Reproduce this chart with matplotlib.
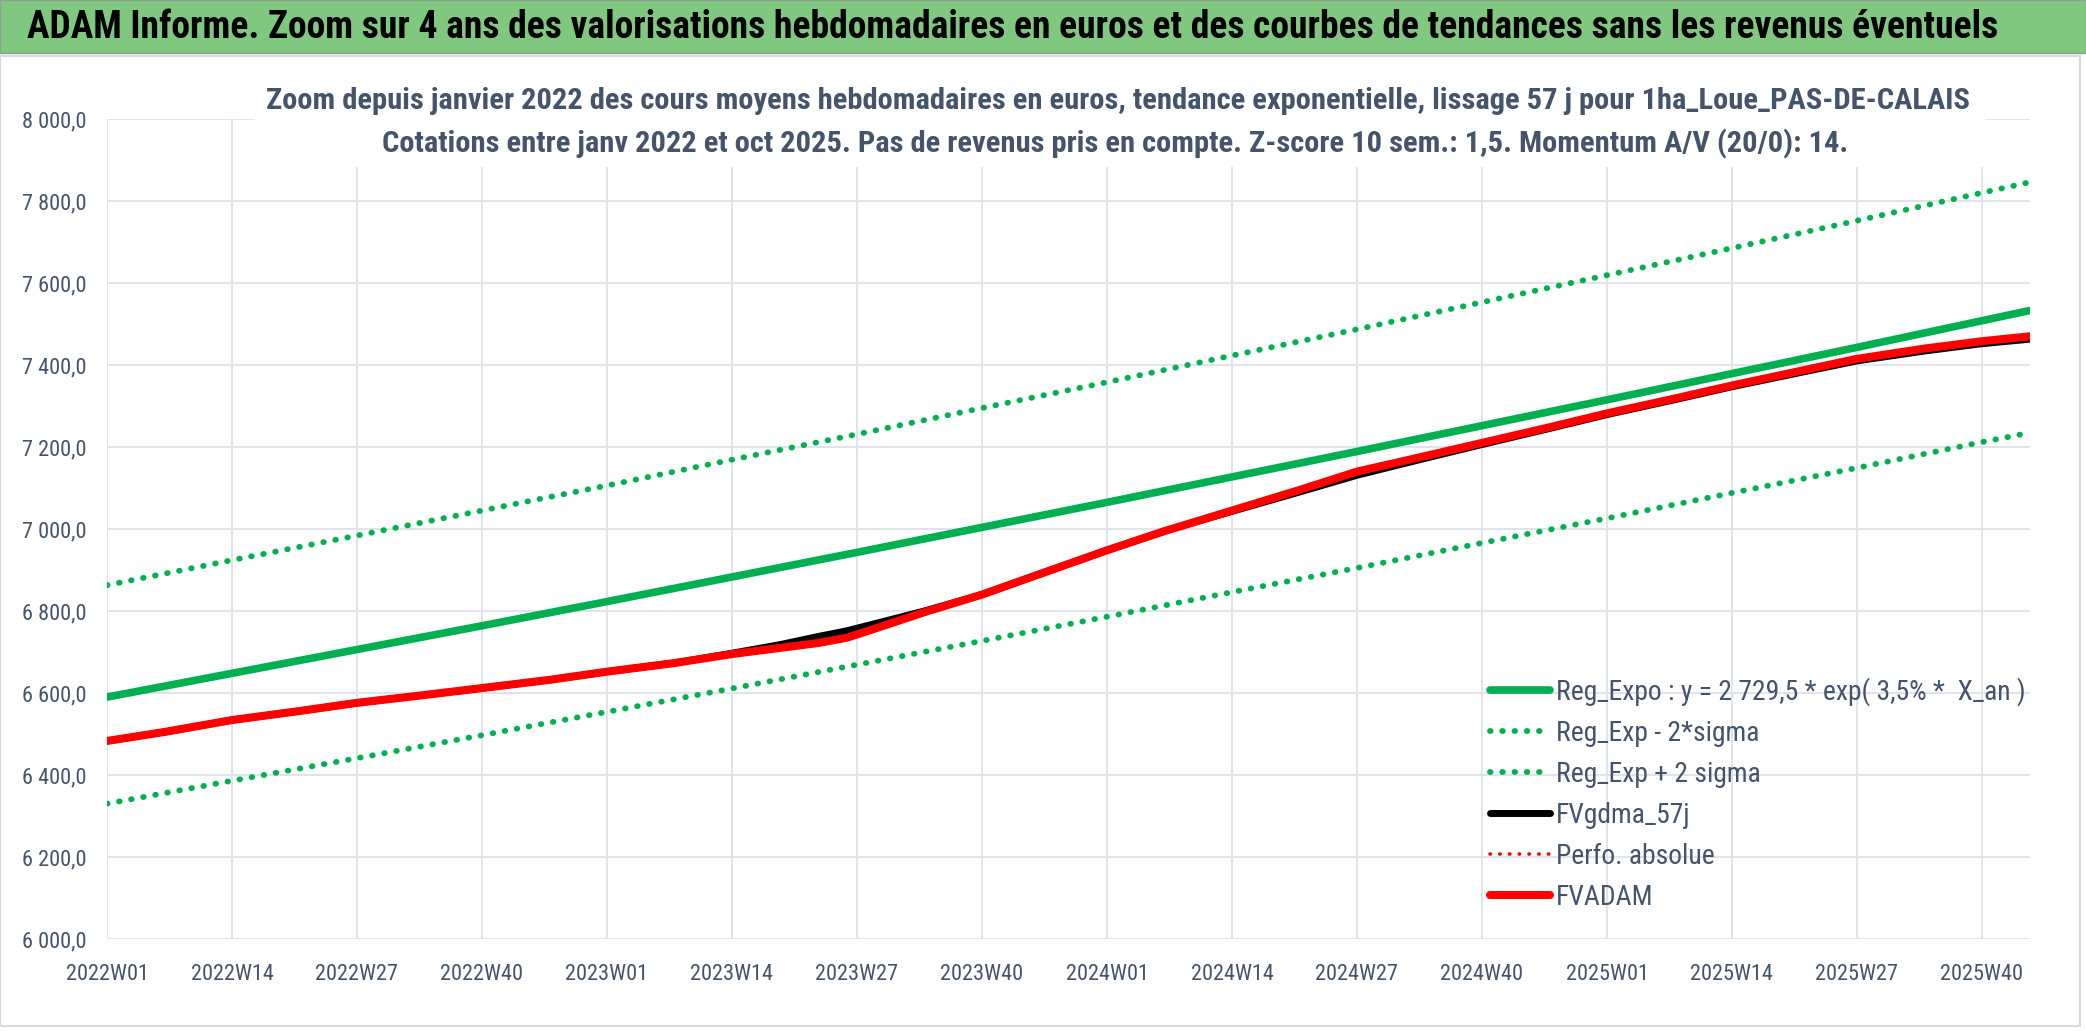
from __future__ import annotations

import matplotlib

matplotlib.use("Agg")

import matplotlib.pyplot as plt
from matplotlib import font_manager
from matplotlib.patches import Rectangle
from matplotlib.lines import Line2D
from matplotlib.ticker import FixedLocator, FuncFormatter

FIG_W, FIG_H, DPI = 2086, 1031, 100

TITLE = ("ADAM Informe. Zoom sur 4 ans des valorisations hebdomadaires en euros "
         "et des courbes de tendances sans les revenus éventuels")
SUBTITLE_1 = ("Zoom depuis janvier 2022 des cours moyens hebdomadaires en euros, "
              "tendance exponentielle, lissage 57 j pour 1ha_Loue_PAS-DE-CALAIS")
SUBTITLE_2 = ("Cotations entre janv 2022 et oct 2025. Pas de revenus pris en compte. "
              "Z-score 10 sem.: 1,5. Momentum A/V (20/0): 14.")

# week index 0 = 2022W01, last point = 2025W45
N_WEEKS = 201
TICK_WEEKS = [0, 13, 26, 39, 52, 65, 78, 91, 104, 117, 130, 143, 156, 169, 182, 195]
TICK_LABELS = ["2022W01", "2022W14", "2022W27", "2022W40",
               "2023W01", "2023W14", "2023W27", "2023W40",
               "2024W01", "2024W14", "2024W27", "2024W40",
               "2025W01", "2025W14", "2025W27", "2025W40"]

TREND_WEEKS = [0, 13, 26, 39, 52, 65, 78, 91, 104, 117, 130, 143, 156, 169, 182, 195, 200]
REG_EXPO = [6590, 6648, 6706, 6764, 6823, 6883, 6943, 7004, 7065,
            7127, 7189, 7252, 7315, 7379, 7443, 7508, 7533]
REG_UPPER = [6863, 6924, 6984, 7045, 7106, 7169, 7231, 7295, 7358,
             7423, 7487, 7553, 7619, 7685, 7752, 7820, 7846]
REG_LOWER = [6330, 6386, 6441, 6497, 6554, 6611, 6669, 6727, 6786,
             6846, 6905, 6966, 7026, 7088, 7149, 7212, 7235]

VALUE_WEEKS = [0, 6, 13, 20, 26, 33, 39, 46, 52, 59, 65, 70, 74, 77, 80, 85, 91, 97,
               104, 110, 117, 124, 130, 136, 143, 150, 156, 163, 169, 176, 182, 189, 195, 200]
FVADAM = [6483, 6505, 6534, 6556, 6576, 6595, 6612, 6632, 6652, 6673, 6695, 6710,
          6722, 6735, 6758, 6797, 6840, 6890, 6948, 6995, 7045, 7095, 7140, 7172,
          7210, 7248, 7282, 7318, 7350, 7385, 7415, 7440, 7458, 7470]
FVGDMA_57J = [6483, 6505, 6534, 6556, 6576, 6595, 6612, 6632, 6652, 6673, 6697, 6718,
              6738, 6752, 6770, 6800, 6840, 6890, 6948, 6995, 7043, 7090, 7131, 7166,
              7206, 7245, 7279, 7315, 7347, 7381, 7410, 7434, 7452, 7463]
PERFO_ABSOLUE = FVADAM

LEGEND_LABELS = ["Reg_Expo : y = 2 729,5 * exp( 3,5% *  X_an )",
                 "Reg_Exp - 2*sigma",
                 "Reg_Exp + 2 sigma",
                 "FVgdma_57j",
                 "Perfo. absolue",
                 "FVADAM"]

GREEN = "#00B050"
RED = "#FF0000"
TEXT_BLUE = "#44546A"
GRID = "#DDE1E8"
DOTS = (0, (0.1, 2.0))

FONT_CANDIDATES = ("Liberation Sans Narrow", "Roboto Condensed", "Open Sans Condensed",
                   "Roboto", "Lato")


def pick_family() -> list[str]:
    names = {f.name for f in font_manager.fontManager.ttflist}
    fams = [n for n in FONT_CANDIDATES if n in names]
    return fams[:1] + ["DejaVu Sans"]


def fx(px: float) -> float:
    return px / FIG_W


def fy(py: float) -> float:
    return 1.0 - py / FIG_H


def fit_width(fig, txt, target_px: float) -> None:
    renderer = fig.canvas.get_renderer()
    for _ in range(3):
        w = txt.get_window_extent(renderer).width
        txt.set_fontsize(txt.get_fontsize() * target_px / w)


def fmt_value(v, _pos):
    return f"{v:,.1f}".replace(",", " ").replace(".", ",")


def main() -> None:
    fam = pick_family()
    plt.rcParams["font.family"] = fam

    fig = plt.figure(figsize=(FIG_W / DPI, FIG_H / DPI), dpi=DPI)
    fig.patch.set_facecolor("white")

    # title band and chart frame
    fig.patches.append(Rectangle((0, fy(53)), 1, 1 - fy(53), transform=fig.transFigure,
                                 facecolor="#80C880", edgecolor="#8FA08F", lw=1.0, zorder=0))
    fig.patches.append(Rectangle((0, fy(1026)), fx(2080), fy(56) - fy(1026),
                                 transform=fig.transFigure, facecolor="none",
                                 edgecolor="#D6D9DE", lw=1.5, zorder=0))
    title = fig.text(fx(27), fy(27), TITLE, fontsize=24, fontweight="bold",
                     color="black", ha="left", va="center")
    fit_width(fig, title, 1973)

    ax = fig.add_axes([fx(107), fy(939), fx(2030) - fx(107), fy(119) - fy(939)])
    ax.set_xlim(0, N_WEEKS - 1)
    ax.set_ylim(6000, 8000)

    ax.plot(TREND_WEEKS, REG_EXPO, color=GREEN, lw=5.5, solid_capstyle="round", zorder=3)
    ax.plot(TREND_WEEKS, REG_LOWER, color=GREEN, lw=4.2, linestyle=DOTS,
            dash_capstyle="round", zorder=3)
    ax.plot(TREND_WEEKS, REG_UPPER, color=GREEN, lw=4.2, linestyle=DOTS,
            dash_capstyle="round", zorder=3)
    ax.plot(VALUE_WEEKS, FVGDMA_57J, color="black", lw=5.0, solid_capstyle="round", zorder=4)
    ax.plot(VALUE_WEEKS, PERFO_ABSOLUE, color=RED, lw=2.0, linestyle=(0, (0.1, 3.5)),
            dash_capstyle="round", zorder=4)
    ax.plot(VALUE_WEEKS, FVADAM, color=RED, lw=5.8, solid_capstyle="round", zorder=5)

    ax.xaxis.set_major_locator(FixedLocator(TICK_WEEKS))
    ax.set_xticklabels(TICK_LABELS)
    ax.yaxis.set_major_locator(FixedLocator(list(range(6000, 8001, 200))))
    ax.yaxis.set_major_formatter(FuncFormatter(fmt_value))
    ax.tick_params(axis="both", length=0, labelsize=16, labelcolor=TEXT_BLUE)
    ax.tick_params(axis="x", pad=18)
    ax.tick_params(axis="y", pad=15)
    ax.grid(True, color=GRID, lw=1.3, zorder=0)
    ax.set_axisbelow(True)
    for spine in ax.spines.values():
        spine.set_visible(False)

    # white box behind the chart subtitle, hiding the top of the grid
    fig.patches.append(Rectangle((fx(255), fy(167)), fx(1985) - fx(255), fy(70) - fy(167),
                                 transform=fig.transFigure, facecolor="white",
                                 edgecolor="none", zorder=1))
    sub1 = fig.text(fx(1118), fy(101), SUBTITLE_1, fontsize=18, fontweight="bold",
                    color=TEXT_BLUE, ha="center", va="center", zorder=3)
    fit_width(fig, sub1, 1703)
    fig.text(fx(1115), fy(144), SUBTITLE_2, fontsize=sub1.get_fontsize(),
             fontweight="bold", color=TEXT_BLUE, ha="center", va="center", zorder=3)

    handles = [
        Line2D([], [], color=GREEN, lw=5.5, solid_capstyle="round"),
        Line2D([], [], color=GREEN, lw=4.2, linestyle=DOTS, dash_capstyle="round"),
        Line2D([], [], color=GREEN, lw=4.2, linestyle=DOTS, dash_capstyle="round"),
        Line2D([], [], color="black", lw=5.0, solid_capstyle="round"),
        Line2D([], [], color=RED, lw=2.6, linestyle=(0, (0.1, 2.6)), dash_capstyle="round"),
        Line2D([], [], color=RED, lw=5.8, solid_capstyle="round"),
    ]
    probe = fig.text(0, 0, LEGEND_LABELS[0], fontsize=17)
    fit_width(fig, probe, 471)
    leg_size = probe.get_fontsize()
    probe.remove()
    em_px = leg_size * DPI / 72
    leg = fig.legend(handles, LEGEND_LABELS, loc="upper left",
                     bbox_to_anchor=(fx(1490), fy(677)), bbox_transform=fig.transFigure,
                     frameon=False, fontsize=leg_size, handlelength=60 / em_px,
                     handletextpad=0.2, labelspacing=40 / em_px - 0.94,
                     borderpad=0, borderaxespad=0)
    for t in leg.get_texts():
        t.set_color(TEXT_BLUE)

    fig.savefig("out.png", dpi=DPI)
    plt.close(fig)


if __name__ == "__main__":
    main()
